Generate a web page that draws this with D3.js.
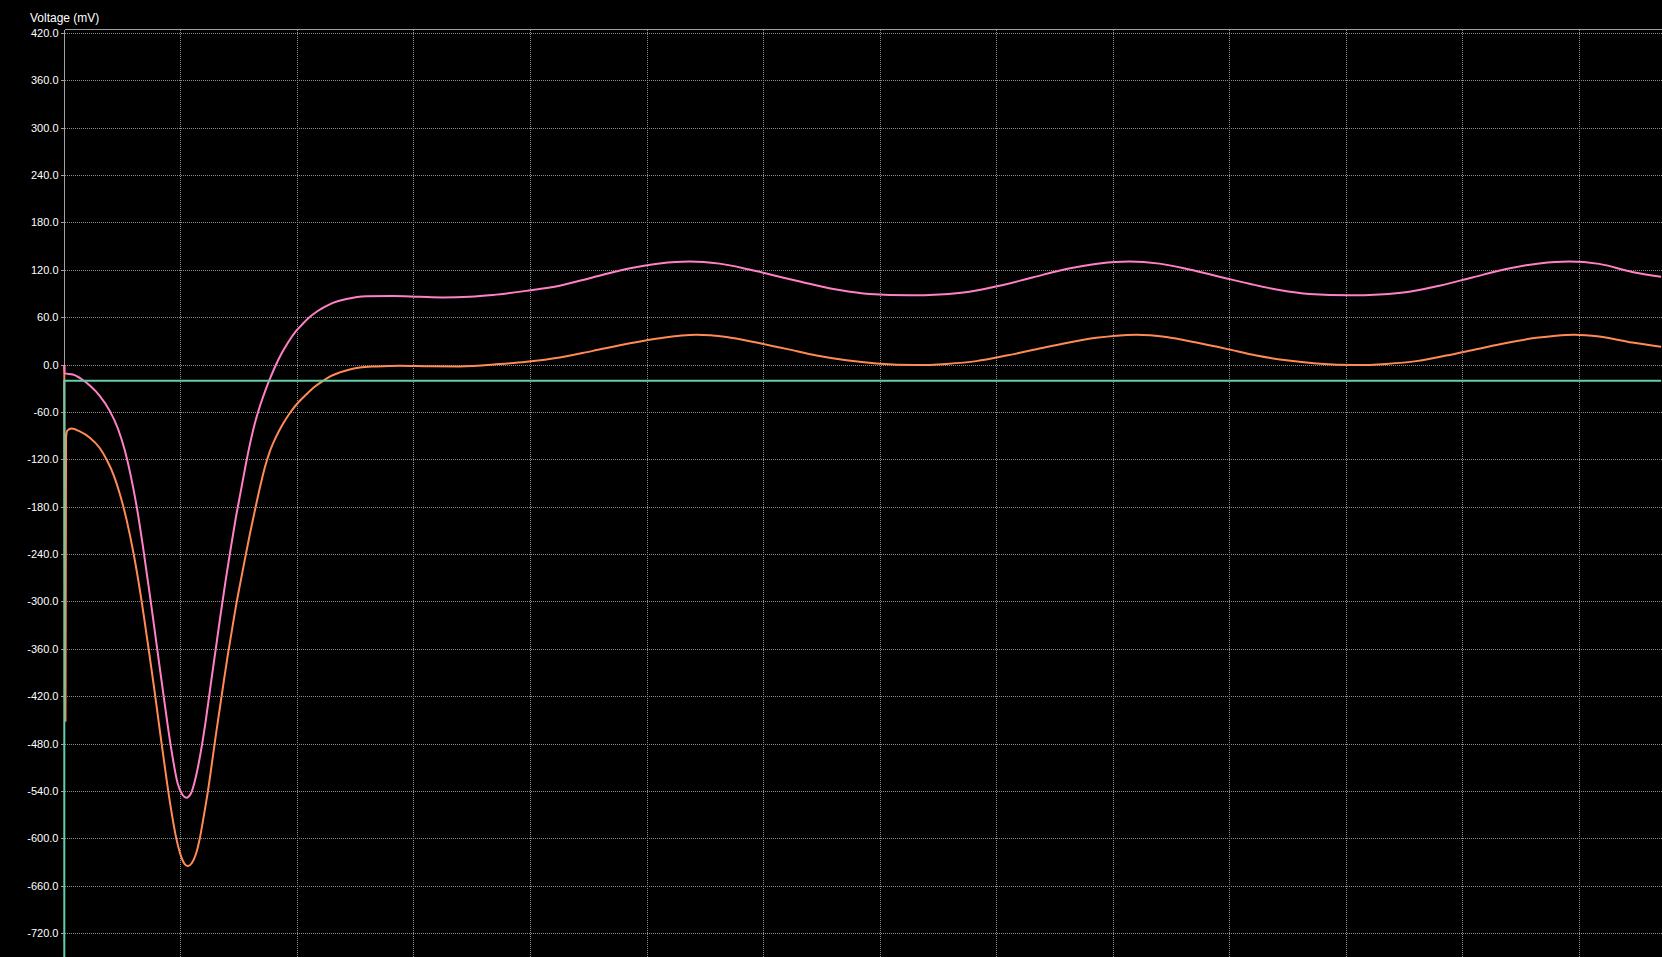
<!DOCTYPE html>
<html>
<head>
<meta charset="utf-8">
<script src="https://cdn.jsdelivr.net/npm/d3@7"></script>
<style>
  html, body { margin: 0; padding: 0; background: #000; overflow: hidden; }
  svg { display: block; }
</style>
</head>
<body>
<svg id="chart" width="1662" height="957"></svg>
<script>
// ---------------- DATA ----------------
const axisTitle = "Voltage (mV)";
const yTickValues = [420, 360, 300, 240, 180, 120, 60, 0, -60, -120, -180, -240, -300, -360, -420, -480, -540, -600, -660, -720];
const xGridValues = [1, 2, 3, 4, 5, 6, 7, 8, 9, 10, 11, 12, 13];

// pink trace (time in grid units, voltage in mV)
const pinkTime = [0, 0.002, 0.073, 0.150, 0.219, 0.304, 0.390, 0.459, 0.519, 0.570, 0.622, 0.673,
  0.733, 0.793, 0.853, 0.913, 0.973, 1.012, 1.048, 1.085, 1.128, 1.171, 1.214, 1.256, 1.299, 1.342,
  1.385, 1.428, 1.471, 1.514, 1.557, 1.599, 1.642, 1.685, 1.728, 1.771, 1.818, 1.865, 1.917, 1.991,
  2.045, 2.091, 2.174, 2.277, 2.420, 2.592,
  2.817, 3.049, 3.246, 3.478, 3.675, 3.964, 4.250, 4.533, 4.822, 5.107, 5.364, 5.621, 5.879, 6.136,
  6.394, 6.651, 6.909, 7.252, 7.509, 7.766, 8.024, 8.307, 8.598, 8.881, 9.138, 9.396, 9.653, 9.911,
  10.168, 10.425, 10.683, 11.026, 11.283, 11.540, 11.798, 12.081, 12.372, 12.655, 12.912, 13.169,
  13.452, 13.701];
const pinkVoltage = [0, -10.5, -12, -18, -26, -39, -58, -80, -108, -140, -180, -228,
  -290, -355, -420, -482, -530, -544, -548, -543, -522, -490, -450, -405, -360, -315,
  -272, -232, -194, -160, -126, -96, -70, -49, -31, -15, 1, 15, 28, 43.5,
  52, 59, 68.5, 77, 83.6, 87.2,
  87.5, 86.5, 85.7, 86.5, 88.7, 94, 100.5, 111, 121.7, 128.8, 131.3, 128.5, 121, 112,
  103, 95, 90, 88.3, 89.5, 93, 100.5, 111, 121.7, 128.8, 131.3, 128.5, 121, 112,
  103, 95, 90, 88.3, 89.5, 93, 100.5, 111, 121.7, 128.8, 131.3, 128.2,
  118, 112];

// orange trace
const orangeTime = [0, 0.010, 0.015, 0.026, 0.062, 0.133, 0.219, 0.304, 0.364, 0.425, 0.476, 0.536,
  0.596, 0.656, 0.716, 0.768, 0.819, 0.870, 0.913, 0.956, 0.999, 1.033, 1.062, 1.093, 1.128, 1.162,
  1.196, 1.231, 1.265, 1.299, 1.334, 1.368, 1.402, 1.437, 1.471, 1.505, 1.548, 1.591, 1.634, 1.677,
  1.720, 1.762, 1.820, 1.874, 1.934, 2.003, 2.077, 2.148, 2.220, 2.286, 2.363, 2.449, 2.534, 2.678,
  2.878, 3.135, 3.393, 3.735, 3.964, 4.250, 4.535, 4.822, 5.107, 5.424, 5.682, 5.939, 6.196, 6.454,
  6.711, 6.969, 7.312, 7.569, 7.826, 8.083, 8.341, 8.598, 8.855, 9.027, 9.199, 9.456, 9.713, 9.971,
  10.228, 10.485, 10.743, 11.086, 11.343, 11.600, 11.857, 12.114, 12.372, 12.629, 12.800, 12.954,
  13.169, 13.452, 13.701];
const orangeVoltage = [0, -451, -92, -83, -80.3, -84, -92, -105, -120, -140, -163, -197,
  -240, -292, -352, -406, -462, -517, -560, -596, -621, -632, -634.6, -631, -620, -600,
  -572, -541, -506, -470, -435, -401, -368, -337, -307, -280, -247, -215, -185, -156,
  -130, -110, -90, -75, -61, -48, -37, -27.5, -20, -14, -9.3, -5.5, -3, -1.7,
  -0.8, -1.5, -1.7, 1.3, 4.2, 9.6, 18, 26.6, 34, 38.4, 35.5, 28.5, 20.5, 12,
  6, 2, 0, 1.5, 5, 12, 20, 28, 34.5, 37.3, 38.4, 35.5, 28.5, 20.5,
  12, 6, 2, 0, 1.5, 5, 12, 20, 28, 34.5, 37.3, 38.4,
  36.2, 28.6, 23.2];

// teal trace (step)
const tealTime = [0, 0, 13.701];
const tealVoltage = [-760, -20, -20];

// ---------------- CHART ----------------
const W = 1662, H = 957;
const svg = d3.select("#chart").style("background", "#000");

const x = d3.scaleLinear().domain([0, 13.7]).range([64.3, 64.3 + 13.7 * 116.55]);
const y = d3.scaleLinear().domain([-720, 420]).range([933.5, 33.5]);
const px = v => Math.floor(x(v)) + 0.5;
const py = v => Math.round(y(v) - 0.5) + 0.5;

const gridColor = "#8c8c8c";
const axisColor = "#a0a0a0";
const plotLeft = px(0), plotTop = 29.5;

// horizontal dotted grid
svg.append("g").selectAll("line").data(yTickValues).join("line")
  .attr("x1", plotLeft).attr("x2", W)
  .attr("y1", d => py(d)).attr("y2", d => py(d))
  .attr("stroke", gridColor).attr("stroke-width", 1)
  .attr("stroke-dasharray", "1,1")
  .attr("shape-rendering", "crispEdges");

// vertical dotted grid
svg.append("g").selectAll("line").data(xGridValues).join("line")
  .attr("x1", d => px(d)).attr("x2", d => px(d))
  .attr("y1", plotTop).attr("y2", H)
  .attr("stroke", gridColor).attr("stroke-width", 1)
  .attr("stroke-dasharray", "1,1")
  .attr("shape-rendering", "crispEdges");

// top border
svg.append("line")
  .attr("x1", plotLeft).attr("x2", W).attr("y1", plotTop).attr("y2", plotTop)
  .attr("stroke", axisColor).attr("stroke-width", 1).attr("shape-rendering", "crispEdges");

// y axis
const yAxis = d3.axisLeft(y)
  .tickValues(yTickValues)
  .tickSize(4)
  .tickPadding(2)
  .tickFormat(d => d.toFixed(1));
const gy = svg.append("g").attr("transform", `translate(${plotLeft},0)`).call(yAxis);
gy.select(".domain").remove();
gy.selectAll(".tick").attr("transform", d => `translate(0,${py(d)})`);
gy.selectAll(".tick line").attr("stroke", axisColor).attr("shape-rendering", "crispEdges");
gy.selectAll(".tick text")
  .attr("fill", "#ffffff")
  .attr("font-family", "'Liberation Sans', Arial, sans-serif")
  .attr("font-size", "11px")
  .attr("dy", "0.36em");
svg.append("line")
  .attr("x1", plotLeft).attr("x2", plotLeft).attr("y1", plotTop).attr("y2", H)
  .attr("stroke", axisColor).attr("stroke-width", 1).attr("shape-rendering", "crispEdges");

// axis title
svg.append("text")
  .attr("x", 30).attr("y", 22)
  .attr("fill", "#ffffff")
  .attr("font-family", "'Liberation Sans', Arial, sans-serif")
  .attr("font-size", "12px")
  .text(axisTitle);

// series
const line = d3.line().x(d => x(d[0])).y(d => y(d[1])).curve(d3.curveMonotoneX);
const lineStep = d3.line().x(d => x(d[0])).y(d => y(d[1]));

const series = [
  { t: orangeTime, v: orangeVoltage, color: "#ff8a55", gen: line },
  { t: pinkTime, v: pinkVoltage, color: "#ff80c4", gen: line },
  { t: tealTime, v: tealVoltage, color: "#66cdaa", gen: lineStep }
];
series.forEach(s => {
  const pts = s.t.map((t, i) => [t, s.v[i]]);
  svg.append("path")
    .datum(pts)
    .attr("d", s.gen)
    .attr("fill", "none")
    .attr("stroke", s.color)
    .attr("stroke-width", 2)
    .attr("stroke-linejoin", "round");
});
</script>
</body>
</html>
